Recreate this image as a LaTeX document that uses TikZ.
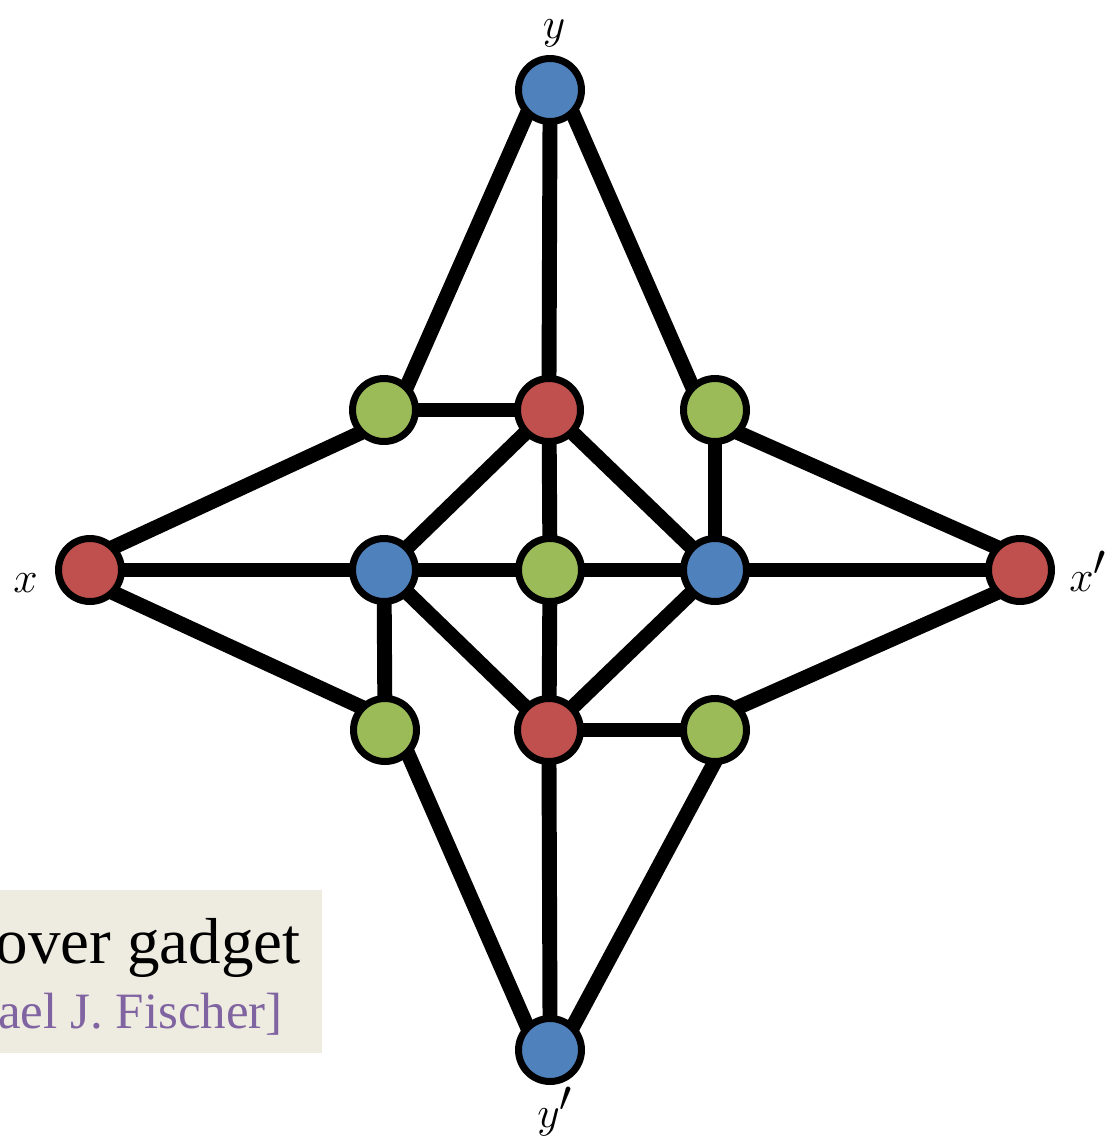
\documentclass[tikz,border=0pt]{standalone}
\usepackage{fontspec}
\setmainfont{Liberation Serif}
\usetikzlibrary{backgrounds}
\definecolor{nblue}{HTML}{4F81BD}
\definecolor{nred}{HTML}{C0504D}
\definecolor{ngreen}{HTML}{9BBB59}
\definecolor{npurple}{HTML}{8064A2}
\definecolor{boxbg}{HTML}{EEEBE0}
\begin{document}
\begin{tikzpicture}[x=0.02cm,y=-0.02cm,
  vtx/.style={circle,draw=black,line width=3.98pt,minimum size=1.26cm,inner sep=0pt,outer sep=0pt},
  vb/.style={vtx,fill=nblue},
  vr/.style={vtx,fill=nred},
  vg/.style={vtx,fill=ngreen},
  edge/.style={line width=8.5pt,shorten <=-0.3cm,shorten >=-0.3cm},
  lab/.style={font=\fontsize{40}{40}\selectfont,inner sep=0pt}]
\useasboundingbox (0,0) rectangle (1109,1139);
\clip (0,0) rectangle (1109,1139);
% caption box
\node[fill=boxbg,minimum width=6.44cm,minimum height=3.26cm,inner sep=0pt,anchor=north west] (box) at (0,890) {};
\node[anchor=base east,inner sep=0pt,font=\fontsize{37}{37}\selectfont] (t1) at (301,963) {over gadget};
\node[anchor=base east,inner sep=0pt,text=npurple,font=\fontsize{29}{29}\selectfont] (t2) at (283,1028) {ael J. Fischer]};
% vertices
\node[vb] (y)  at (550,90) {};
\node[vg] (gtl) at (384,410) {};
\node[vr] (rtc) at (549,410) {};
\node[vg] (gtr) at (715,410) {};
\node[vr] (x)  at (90,570) {};
\node[vb] (blc) at (384,570) {};
\node[vg] (gc)  at (550,570) {};
\node[vb] (brc) at (715,570) {};
\node[vr] (xp) at (1020,570) {};
\node[vg] (gbl) at (385,730) {};
\node[vr] (rbc) at (549,730) {};
\node[vg] (gbr) at (715,730) {};
\node[vb] (yp) at (550,1050) {};
% labels
\node[lab,anchor=base] (ly) at (554,38) {$y$};
\node[lab,anchor=base] (lx) at (25.5,592) {$x$};
\node[lab,anchor=base west] (lxp) at (1069,591) {$x'$};
\node[lab,anchor=base] (lyp) at (555,1127) {$y'$};
% edges
\begin{scope}[on background layer]
\foreach \a/\b in {y.south west/gtl.north east, y.south/rtc.north, y.south east/gtr.north west,
  gtl.center/rtc.center, gtl.south west/x.north east,
  rtc.center/blc.center, rtc.center/gc.center, rtc.center/brc.center,
  gtr.center/brc.center, gtr.south east/xp.north west,
  x.center/blc.center, blc.center/gc.center, gc.center/brc.center, brc.center/xp.center,
  x.south east/gbl.north west, blc.center/gbl.center, blc.center/rbc.center,
  gc.center/rbc.center, brc.center/rbc.center, rbc.center/gbr.center,
  gbr.north east/xp.south west,
  gbl.south east/yp.north west, rbc.south/yp.north, gbr.south/yp.north east}
  \draw[edge] (\a) -- (\b);
\end{scope}
\end{tikzpicture}
\end{document}
